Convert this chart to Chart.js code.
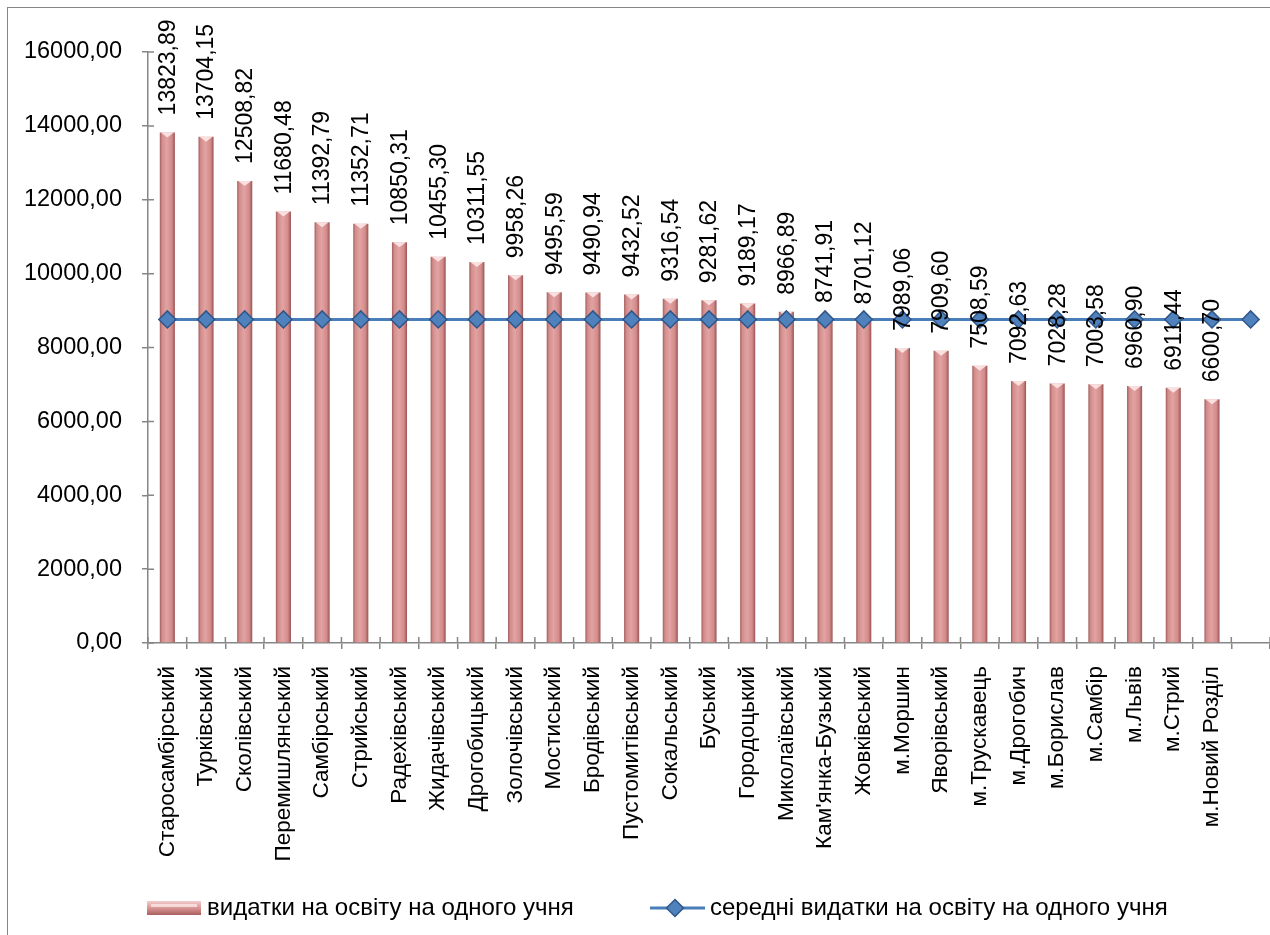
<!DOCTYPE html>
<html>
<head>
<meta charset="utf-8">
<title>Видатки на освіту</title>
<script src="https://cdn.jsdelivr.net/npm/chart.js@4.4.0/dist/chart.umd.min.js"></script>
<style>
html, body { margin: 0; padding: 0; background: #fff; overflow: hidden; }
#frame { position: absolute; left: 7px; top: 7px; width: 1300px; height: 940px; border: 1px solid #868686; box-sizing: border-box; }
#wrap { position: absolute; left: 0; top: 0; width: 1270px; height: 935px; }
</style>
</head>
<body>
<div id="frame"></div>
<div id="wrap"><canvas id="myChart" width="1270" height="935"></canvas></div>
<script>
// райони та міста (остання категорія порожня - там лише точка середнього)
var districts = ['Старосамбірський', 'Турківський', 'Сколівський', 'Перемишлянський', 'Самбірський',
    'Стрийський', 'Радехівський', 'Жидачівський', 'Дрогобицький', 'Золочівський', 'Мостиський',
    'Бродівський', 'Пустомитівський', 'Сокальський', 'Буський', 'Городоцький', 'Миколаївський',
    "Кам'янка-Бузький", 'Жовківський', 'м.Моршин', 'Яворівський', 'м.Трускавець', 'м.Дрогобич',
    'м.Борислав', 'м.Самбір', 'м.Львів', 'м.Стрий', 'м.Новий Розділ', ''];

var spending = [13823.89, 13704.15, 12508.82, 11680.48, 11392.79, 11352.71, 10850.31, 10455.30,
    10311.55, 9958.26, 9495.59, 9490.94, 9432.52, 9316.54, 9281.62, 9189.17, 8966.89, 8741.91,
    8701.12, 7989.06, 7909.60, 7508.59, 7092.63, 7028.28, 7003.58, 6960.90, 6911.44, 6600.70, null];

var average = [8760, 8760, 8760, 8760, 8760, 8760, 8760, 8760, 8760, 8760, 8760, 8760, 8760, 8760,
    8760, 8760, 8760, 8760, 8760, 8760, 8760, 8760, 8760, 8760, 8760, 8760, 8760, 8760, 8760];

var seriesNames = ['видатки на освіту на одного учня', 'середні видатки на освіту на одного учня'];

var AXIS_COLOR = '#868686';
var FONT = "'Liberation Sans', Arial, sans-serif";

function fmt(v) {
    return v.toFixed(2).replace('.', ',');
}

// градієнт "циліндра" для стовпчика
function barGradient(ctx, x0, x1) {
    var g = ctx.createLinearGradient(x0, 0, x1, 0);
    g.addColorStop(0, '#a25c5b');
    g.addColorStop(0.15, '#d28d8c');
    g.addColorStop(0.45, '#e2a3a2');
    g.addColorStop(0.8, '#d28b8a');
    g.addColorStop(1, '#985352');
    return g;
}

var BAR_PCT = 0.39;

// підписи значень над стовпчиками + верхня фаска
var valueLabels = {
    id: 'valueLabels',
    afterDatasetDraw: function (chart, args) {
        if (args.index !== 0) return;
        var ctx = chart.ctx;
        ctx.save();
        chart.getDatasetMeta(0).data.forEach(function (bar, i) {
            if (spending[i] == null) return;
            var w = bar.width;
            ctx.beginPath();
            ctx.moveTo(bar.x - w / 2 + 1, bar.y);
            ctx.lineTo(bar.x + w / 2 - 1, bar.y);
            ctx.lineTo(bar.x, bar.y + 5);
            ctx.closePath();
            ctx.fillStyle = 'rgba(255,235,235,0.85)';
            ctx.fill();
        });
        ctx.restore();
    },
    afterDatasetsDraw: function (chart) {
        var ctx = chart.ctx;
        ctx.save();
        ctx.font = '23px ' + FONT;
        ctx.fillStyle = '#000';
        ctx.textAlign = 'left';
        ctx.textBaseline = 'middle';
        chart.getDatasetMeta(0).data.forEach(function (bar, i) {
            if (spending[i] == null) return;
            ctx.save();
            ctx.translate(bar.x + 1, bar.y - 17);
            ctx.rotate(-Math.PI / 2);
            ctx.fillText(fmt(spending[i]), 0, 0);
            ctx.restore();
        });
        ctx.restore();
    }
};

// засічки осей, що перетинають вісь, та легенда
var axisAndLegend = {
    id: 'axisAndLegend',
    afterDraw: function (chart) {
        var ctx = chart.ctx;
        var xs = chart.scales.x, ys = chart.scales.y;
        var left = chart.chartArea.left, bottom = chart.chartArea.bottom;
        ctx.save();
        ctx.strokeStyle = AXIS_COLOR;
        ctx.lineWidth = 1.5;
        ctx.beginPath();
        ys.ticks.forEach(function (t) {
            var y = ys.getPixelForValue(t.value);
            ctx.moveTo(left, y);
            ctx.lineTo(left + 6, y);
        });
        var step = xs.getPixelForValue(1) - xs.getPixelForValue(0);
        for (var i = 0; i <= districts.length; i++) {
            var x = xs.getPixelForValue(0) - step / 2 + i * step;
            ctx.moveTo(x, bottom);
            ctx.lineTo(x, bottom - 6);
        }
        ctx.stroke();

        // легенда
        var ly = 908;
        var g = ctx.createLinearGradient(0, ly - 7, 0, ly + 7);
        g.addColorStop(0, '#f3cfce');
        g.addColorStop(0.5, '#d99594');
        g.addColorStop(1, '#a9605f');
        ctx.fillStyle = g;
        ctx.fillRect(147, ly - 7, 54, 14);
        ctx.fillStyle = 'rgba(255,240,240,0.7)';
        ctx.fillRect(151, ly - 4, 46, 3);

        ctx.strokeStyle = '#4a7ebb';
        ctx.lineWidth = 3;
        ctx.beginPath();
        ctx.moveTo(650, ly);
        ctx.lineTo(705, ly);
        ctx.stroke();
        ctx.beginPath();
        ctx.moveTo(675 - 8.5, ly);
        ctx.lineTo(675, ly - 8.5);
        ctx.lineTo(675 + 8.5, ly);
        ctx.lineTo(675, ly + 8.5);
        ctx.closePath();
        ctx.fillStyle = '#4f81bd';
        ctx.fill();
        ctx.lineWidth = 1.5;
        ctx.strokeStyle = '#2f5689';
        ctx.stroke();

        ctx.fillStyle = '#000';
        ctx.font = '24px ' + FONT;
        ctx.textAlign = 'left';
        ctx.textBaseline = 'middle';
        ctx.fillText(chart.data.datasets[0].label, 207, ly);
        ctx.fillText(chart.data.datasets[1].label, 710, ly);
        ctx.restore();
    }
};

var ctx = document.getElementById('myChart').getContext('2d');
var chart = new Chart(ctx, {
    type: 'bar',
    data: {
        labels: districts,
        datasets: [{
            type: 'bar',
            label: seriesNames[0],
            data: spending,
            order: 1,
            barPercentage: BAR_PCT,
            categoryPercentage: 1,
            backgroundColor: function (c) {
                var xs = c.chart.scales.x;
                if (c.type !== 'data' || !xs) return '#d99594';
                var cw = xs.getPixelForValue(1) - xs.getPixelForValue(0);
                var xc = xs.getPixelForValue(c.dataIndex);
                if (!isFinite(cw) || !isFinite(xc) || cw <= 0) return '#d99594';
                return barGradient(c.chart.ctx, xc - cw * BAR_PCT / 2, xc + cw * BAR_PCT / 2);
            },
            borderWidth: 0
        }, {
            type: 'line',
            label: seriesNames[1],
            data: average,
            order: 0,
            borderColor: '#4a7ebb',
            borderWidth: 3,
            pointStyle: 'rectRot',
            pointRadius: 8.5,
            pointHoverRadius: 8.5,
            pointBackgroundColor: '#4f81bd',
            pointBorderColor: '#2f5689',
            pointBorderWidth: 1.5,
            tension: 0
        }]
    },
    plugins: [valueLabels, axisAndLegend],
    options: {
        responsive: false,
        animation: false,
        layout: { autoPadding: false, padding: { top: 52, right: 0, bottom: 0, left: 0 } },
        plugins: {
            legend: { display: false },
            tooltip: { enabled: false }
        },
        scales: {
            x: {
                offset: true,
                grid: { offset: true, drawOnChartArea: false, tickLength: 6, color: AXIS_COLOR, lineWidth: 1.5 },
                border: { color: AXIS_COLOR, width: 1.5 },
                ticks: {
                    autoSkip: false, minRotation: 90, maxRotation: 90, padding: 17,
                    color: '#000', font: { family: FONT, size: 22.5 }
                },
                afterFit: function (scale) {
                    scale.height = 292;
                    scale.paddingRight = 0;
                    scale.paddingLeft = 0;
                }
            },
            y: {
                min: 0,
                max: 16000,
                grid: { drawOnChartArea: false, tickLength: 6, color: AXIS_COLOR, lineWidth: 1.5 },
                border: { color: AXIS_COLOR, width: 1.5 },
                ticks: {
                    stepSize: 2000, padding: 20, color: '#000',
                    font: { family: FONT, size: 23.5 },
                    callback: function (v) { return fmt(v); }
                },
                afterFit: function (scale) { scale.width = 148; }
            }
        }
    }
});
</script>
</body>
</html>
